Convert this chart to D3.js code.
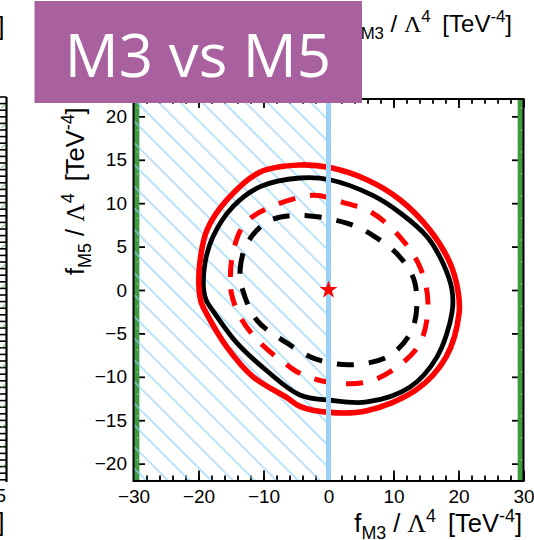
<!DOCTYPE html>
<html>
<head>
<meta charset="utf-8">
<script src="https://cdn.jsdelivr.net/npm/d3@7"></script>
<style>
  html, body { margin: 0; padding: 0; background: #fff; }
  svg { display: block; font-family: "Liberation Sans", Arial, Helvetica, sans-serif; }
</style>
</head>
<body>
<svg id="chart" width="534" height="540"></svg>
<script>
// Axis ranges and ticks (f_M3 horizontal, f_M5 vertical, in TeV^-4)
const xDomain = [-30, 30];
const yDomain = [-22, 22];
const xTicksMajor = [-30, -20, -10, 0, 10, 20, 30];
const xTicksMinor = d3.range(-30, 31, 2);
const yTicksMajor = [-20, -15, -10, -5, 0, 5, 10, 15, 20];

// Region excluded by the bound on f_M3 (hatched) and the outer limit band
const excludedRegion = [-30, 0];
const outerLimit = 29.1;

// Standard Model point
const smPoint = [0, 0];

// Confidence contours: [f_M3, f_M5]
const redSolid = [
  [-19.9, 0], [-19.8, 3.1], [-18.7, 6.9], [-15.6, 10.4], [-10.5, 13.6], [-4.4, 14.4],
  [0.2, 14.1], [5.9, 12.7], [11.0, 10.4], [15.6, 6.9], [18.7, 3.1], [19.9, 0],
  [20.1, -2.6], [18.1, -7.7], [13.5, -11.5], [5.9, -13.9], [0.2, -14.1], [-4.4, -13.4],
  [-6.4, -12.4], [-11.6, -10.0], [-15.6, -6.6], [-18.7, -2.8], [-19.6, -1.4]
];
const blackSolid = [
  [-19.2, 0], [-19.0, 3.1], [-17.8, 6.1], [-14.7, 9.6], [-10.5, 11.9], [-4.4, 12.9],
  [0.2, 12.7], [6.8, 10.9], [11.0, 8.9], [15.2, 6.1], [17.6, 3.1], [19.0, 0],
  [19.0, -2.6], [16.7, -7.7], [12.5, -11.2], [5.9, -12.9], [0.2, -12.7], [-4.4, -12.1],
  [-9.5, -9.3], [-14.1, -6.1], [-17.5, -2.7], [-18.8, -1.2]
];
const redDashed = [
  [-14.9, -0.5], [-15.1, 1.5], [-14.7, 4.3], [-13.2, 7.3], [-10.5, 9.0], [-2.4, 10.9],
  [2.2, 10.1], [6.7, 8.9], [11.0, 6.1], [14.1, 2.6], [15.3, -1.5], [14.1, -6.1],
  [10.5, -8.9], [5.9, -10.6], [-0.2, -10.6], [-4.4, -9.6], [-5.9, -8.9], [-10.5, -6.1],
  [-13.6, -3.1]
];
const blackDashed = [
  [-13.2, 0], [-13.6, 2.3], [-12.5, 5.4], [-9.3, 7.9], [-4.4, 8.6], [2.8, 7.7],
  [6.8, 6.3], [11.0, 3.8], [13.3, 0.8], [13.0, -4.3], [9.5, -7.5], [3.8, -8.6],
  [-1.8, -8.0], [-6.4, -6.1], [-11.0, -3.5]
];

const contours = [
  { pts: blackDashed, color: "#000000", width: 5, dash: "17 15" },
  { pts: redDashed,   color: "#ff0000", width: 5, dash: "17 15" },
  { pts: blackSolid,  color: "#000000", width: 4.8, dash: null },
  { pts: redSolid,    color: "#ff0000", width: 5.6, dash: null }
];

const svg = d3.select("#chart");
const frame = { left: 133.5, right: 523.5, top: 99, bottom: 481 };

const x = d3.scaleLinear().domain(xDomain).range([frame.left, frame.right]);
const y = d3.scaleLinear().domain(yDomain).range([frame.bottom, frame.top]);

// ---- patterns ----
const defs = svg.append("defs");
const hatchW = 21.7 / Math.SQRT2;
const hatch = defs.append("pattern")
  .attr("id", "hatch")
  .attr("patternUnits", "userSpaceOnUse")
  .attr("width", hatchW).attr("height", hatchW)
  .attr("patternTransform", "translate(2.05,0) rotate(-45)");
hatch.append("line")
  .attr("x1", hatchW / 2).attr("x2", hatchW / 2)
  .attr("y1", -1).attr("y2", hatchW + 1)
  .attr("stroke", "#8fd0f6").attr("stroke-width", 1.2);

defs.append("clipPath").attr("id", "plotClip")
  .append("rect")
  .attr("x", frame.left).attr("y", frame.top)
  .attr("width", frame.right - frame.left).attr("height", frame.bottom - frame.top);

// ---- ticks ----
function styleTicks(g) {
  g.select(".domain").remove();
  g.selectAll(".tick line").attr("stroke", "#000").attr("stroke-width", 1.8);
}
const tickFont = 19;

svg.append("g").attr("transform", `translate(0,${frame.bottom})`)
  .call(d3.axisBottom(x).tickValues(xTicksMinor).tickSizeInner(-5.5).tickSizeOuter(0).tickFormat(""))
  .call(styleTicks);
svg.append("g").attr("transform", `translate(0,${frame.bottom})`)
  .call(d3.axisBottom(x).tickValues(xTicksMajor).tickSizeInner(-10.5).tickSizeOuter(0).tickPadding(8.5))
  .call(styleTicks)
  .call(g => g.selectAll("text").attr("font-size", tickFont).attr("fill", "#000")
    .attr("font-family", "Liberation Sans, Arial, sans-serif"));
svg.append("g").attr("transform", `translate(0,${frame.top})`)
  .call(d3.axisTop(x).tickValues(xTicksMinor).tickSizeInner(-4.7).tickSizeOuter(0).tickFormat(""))
  .call(styleTicks);
svg.append("g").attr("transform", `translate(0,${frame.top})`)
  .call(d3.axisTop(x).tickValues(xTicksMajor).tickSizeInner(-9).tickSizeOuter(0).tickFormat(""))
  .call(styleTicks);
svg.append("g").attr("transform", `translate(${frame.left},0)`)
  .call(d3.axisLeft(y).tickValues(yTicksMajor).tickSizeInner(-11.5).tickSizeOuter(0).tickPadding(6.5))
  .call(styleTicks)
  .call(g => g.selectAll("text").attr("font-size", tickFont).attr("fill", "#000")
    .attr("font-family", "Liberation Sans, Arial, sans-serif"));
svg.append("g").attr("transform", `translate(${frame.right},0)`)
  .call(d3.axisRight(y).tickValues(yTicksMajor).tickSizeInner(-11.5).tickSizeOuter(0).tickFormat(""))
  .call(styleTicks);

// ---- outer limit bands ----
const plot = svg.append("g").attr("clip-path", "url(#plotClip)");
[[xDomain[0], -outerLimit], [outerLimit, xDomain[1]]].forEach(([a, b]) => {
  plot.append("rect")
    .attr("x", x(a)).attr("y", frame.top)
    .attr("width", x(b) - x(a)).attr("height", frame.bottom - frame.top)
    .attr("fill", "#3e9a3e");
  plot.append("line")
    .attr("x1", (x(a) + x(b)) / 2 + 1).attr("x2", (x(a) + x(b)) / 2 + 1)
    .attr("y1", frame.top + 8).attr("y2", frame.bottom)
    .attr("stroke", "#8ccf8c").attr("stroke-width", 1)
    .attr("stroke-dasharray", "2 20");
});

// ---- hatched excluded region ----
plot.append("rect")
  .attr("x", x(excludedRegion[0])).attr("y", frame.top)
  .attr("width", x(excludedRegion[1]) - x(excludedRegion[0]))
  .attr("height", frame.bottom - frame.top)
  .attr("fill", "url(#hatch)");

// ---- contours ----
const contourLine = d3.line()
  .x(d => x(d[0])).y(d => y(d[1]))
  .curve(d3.curveCatmullRomClosed.alpha(0.5));
contours.forEach(c => {
  plot.append("path")
    .attr("d", contourLine(c.pts))
    .attr("fill", "none")
    .attr("stroke", c.color)
    .attr("stroke-width", c.width)
    .attr("stroke-dasharray", c.dash);
});

// ---- boundary of the excluded region ----
plot.append("line")
  .attr("x1", x(excludedRegion[1])).attr("x2", x(excludedRegion[1]))
  .attr("y1", frame.top).attr("y2", frame.bottom)
  .attr("stroke", "#99d1f6").attr("stroke-width", 5);

// ---- SM point ----
plot.append("path")
  .attr("d", d3.symbol(d3.symbolStar).size(100)())
  .attr("transform", `translate(${x(smPoint[0])},${y(smPoint[1])})`)
  .attr("fill", "#ff0000");

// ---- frame ----
svg.append("rect")
  .attr("x", frame.left).attr("y", frame.top)
  .attr("width", frame.right - frame.left).attr("height", frame.bottom - frame.top)
  .attr("fill", "none").attr("stroke", "#000").attr("stroke-width", 2);

// ---- axis titles ----
function axisTitle(sel, sub, size) {
  const s = size * 0.7;
  sel.append("tspan").text("f");
  sel.append("tspan").attr("font-size", s).attr("dy", 7).text(sub);
  sel.append("tspan").attr("dy", -7).text(" / ");
  sel.append("tspan").attr("font-family", "Liberation Serif, Times New Roman, serif").text("\u039B");
  sel.append("tspan").attr("font-size", s).attr("dy", -10).text("4");
  sel.append("tspan").attr("dy", 10).attr("dx", 5).text(" [TeV");
  sel.append("tspan").attr("font-size", s).attr("dy", -10).text("-4");
  sel.append("tspan").attr("dy", 10).text("]");
}
svg.append("text")
  .attr("x", 522).attr("y", 532).attr("text-anchor", "end")
  .attr("font-size", 25.5).attr("fill", "#000")
  .call(axisTitle, "M3", 25.5);
svg.append("text")
  .attr("transform", "translate(84,275) rotate(-90)")
  .attr("font-size", 25.5).attr("fill", "#000")
  .call(axisTitle, "M5", 25.5);
// title of the panel above
svg.append("text")
  .attr("x", 512).attr("y", 32).attr("text-anchor", "end")
  .attr("font-size", 24).attr("fill", "#000")
  .call(axisTitle, "M3", 24);

// ---- edge of neighbouring panel ----
const edge = svg.append("g");
edge.append("text").attr("x", 4.5).attr("y", 35).attr("text-anchor", "end")
  .attr("font-size", 25).text("]");
edge.append("text").attr("x", 4.5).attr("y", 531).attr("text-anchor", "end")
  .attr("font-size", 25).text("]");
edge.append("text").attr("x", 6).attr("y", 502).attr("text-anchor", "end")
  .attr("font-size", tickFont).text("5");
edge.append("line").attr("x1", 6.5).attr("x2", 6.5).attr("y1", 97).attr("y2", 482)
  .attr("stroke", "#000").attr("stroke-width", 2.2);
edge.selectAll("line.rung").data(d3.range(97, 483, 6.6)).join("line")
  .attr("class", "rung")
  .attr("x1", 0).attr("x2", 6.5).attr("y1", d => d).attr("y2", d => d)
  .attr("stroke", "#000").attr("stroke-width", 1.6);
edge.selectAll("line.gh").data(d3.range(104, 480, 20)).join("line")
  .attr("class", "gh")
  .attr("x1", 1.5).attr("x2", 5.5).attr("y1", d => d + 4).attr("y2", d => d)
  .attr("stroke", "#4caf50").attr("stroke-width", 1);

// ---- panel label ----
svg.append("rect")
  .attr("x", 34.5).attr("y", 1).attr("width", 327.5).attr("height", 102)
  .attr("fill", "#a8609e");
svg.append("text")
  .attr("x", 198).attr("y", 77).attr("text-anchor", "middle")
  .attr("font-family", "Open Sans, Lato, sans-serif")
  .attr("font-size", 60).attr("fill", "#ffffff")
  .text("M3 vs M5");
</script>
</body>
</html>
